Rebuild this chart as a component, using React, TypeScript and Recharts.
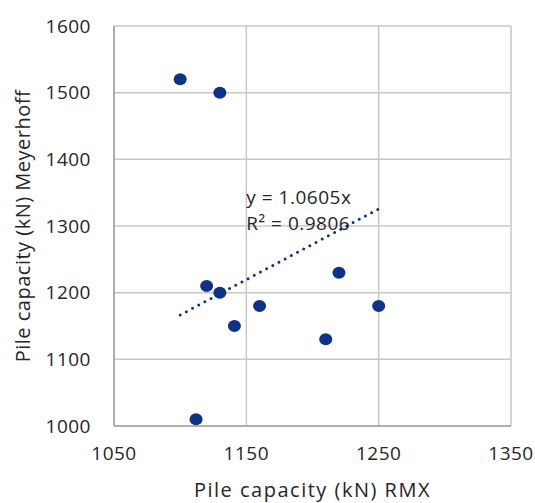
import {
  ScatterChart,
  Scatter,
  XAxis,
  YAxis,
  CartesianGrid,
  ReferenceDot,
  Label,
} from 'recharts'

const rmx = [1100, 1130, 1120, 1130, 1141, 1160, 1112, 1220, 1250, 1210]
const meyerhoff = [1520, 1500, 1210, 1200, 1150, 1180, 1010, 1230, 1180, 1130]

// trendline end points, from y = 1.0605x
const trendX = [1100, 1250]
const trendY = [1166.6, 1325.6]

const xTicks = [1050, 1150, 1250, 1350]
const yTicks = [1000, 1100, 1200, 1300, 1400, 1500, 1600]

const points = rmx.map((x, i) => ({ x, y: meyerhoff[i] }))
const trend = trendX.map((x, i) => ({ x, y: trendY[i] }))

const NAVY = '#0d3286'
const TEXT = '#262626'
const FONT = '"Open Sans", sans-serif'

const Dot = (props: any) => <ellipse cx={props.cx} cy={props.cy} rx={6.5} ry={6} fill={NAVY} />

export default function App() {
  return (
    <div style={{ position: 'absolute', left: 0, top: 0, background: '#fff', fontFamily: FONT }}>
      <ScatterChart width={535} height={503} margin={{ top: 26, right: 24, bottom: 0, left: 0 }}>
        <CartesianGrid stroke="#c8c8c8" strokeWidth={1.5} />
        <XAxis
          type="number"
          dataKey="x"
          domain={[1050, 1350]}
          ticks={xTicks}
          height={77}
          tickSize={0}
          tickMargin={21}
          axisLine={{ stroke: '#a0a0a0', strokeWidth: 1.5 }}
          tick={{ fontSize: 19, fill: TEXT, fontFamily: FONT, letterSpacing: 0.5 }}
        >
          <Label
            value="Pile capacity (kN) RMX"
            position="insideBottom"
            offset={6}
            fontSize={20}
            letterSpacing={1.5}
            fill={TEXT}
            fontFamily={FONT}
          />
        </XAxis>
        <YAxis
          type="number"
          dataKey="y"
          domain={[1000, 1600]}
          ticks={yTicks}
          width={114}
          tickSize={0}
          tickMargin={23}
          axisLine={{ stroke: '#a0a0a0', strokeWidth: 1.5 }}
          tick={{ fontSize: 19, fill: TEXT, fontFamily: FONT, letterSpacing: 0.5 }}
        >
          <Label
            value="Pile capacity (kN) Meyerhoff"
            angle={-90}
            position="insideLeft"
            offset={23}
            textAnchor="middle"
            fontSize={20}
            letterSpacing={0.5}
            fill={TEXT}
            fontFamily={FONT}
          />
        </YAxis>
        <ReferenceDot
          x={1150}
          y={1343}
          r={0}
          stroke="none"
          label={{ value: 'y = 1.0605x', position: 'right', offset: 0, fontSize: 19, letterSpacing: 0.5, fill: TEXT, fontFamily: FONT }}
        />
        <ReferenceDot
          x={1150}
          y={1304}
          r={0}
          stroke="none"
          label={{ value: 'R² = 0.9806', position: 'right', offset: 0, fontSize: 19, letterSpacing: 0.5, fill: TEXT, fontFamily: FONT }}
        />
        <Scatter
          data={trend}
          isAnimationActive={false}
          line={{ stroke: NAVY, strokeWidth: 3, strokeDasharray: '0 7', strokeLinecap: 'round' }}
          shape={() => null}
        />
        <Scatter data={points} isAnimationActive={false} shape={Dot} />
      </ScatterChart>
    </div>
  )
}
